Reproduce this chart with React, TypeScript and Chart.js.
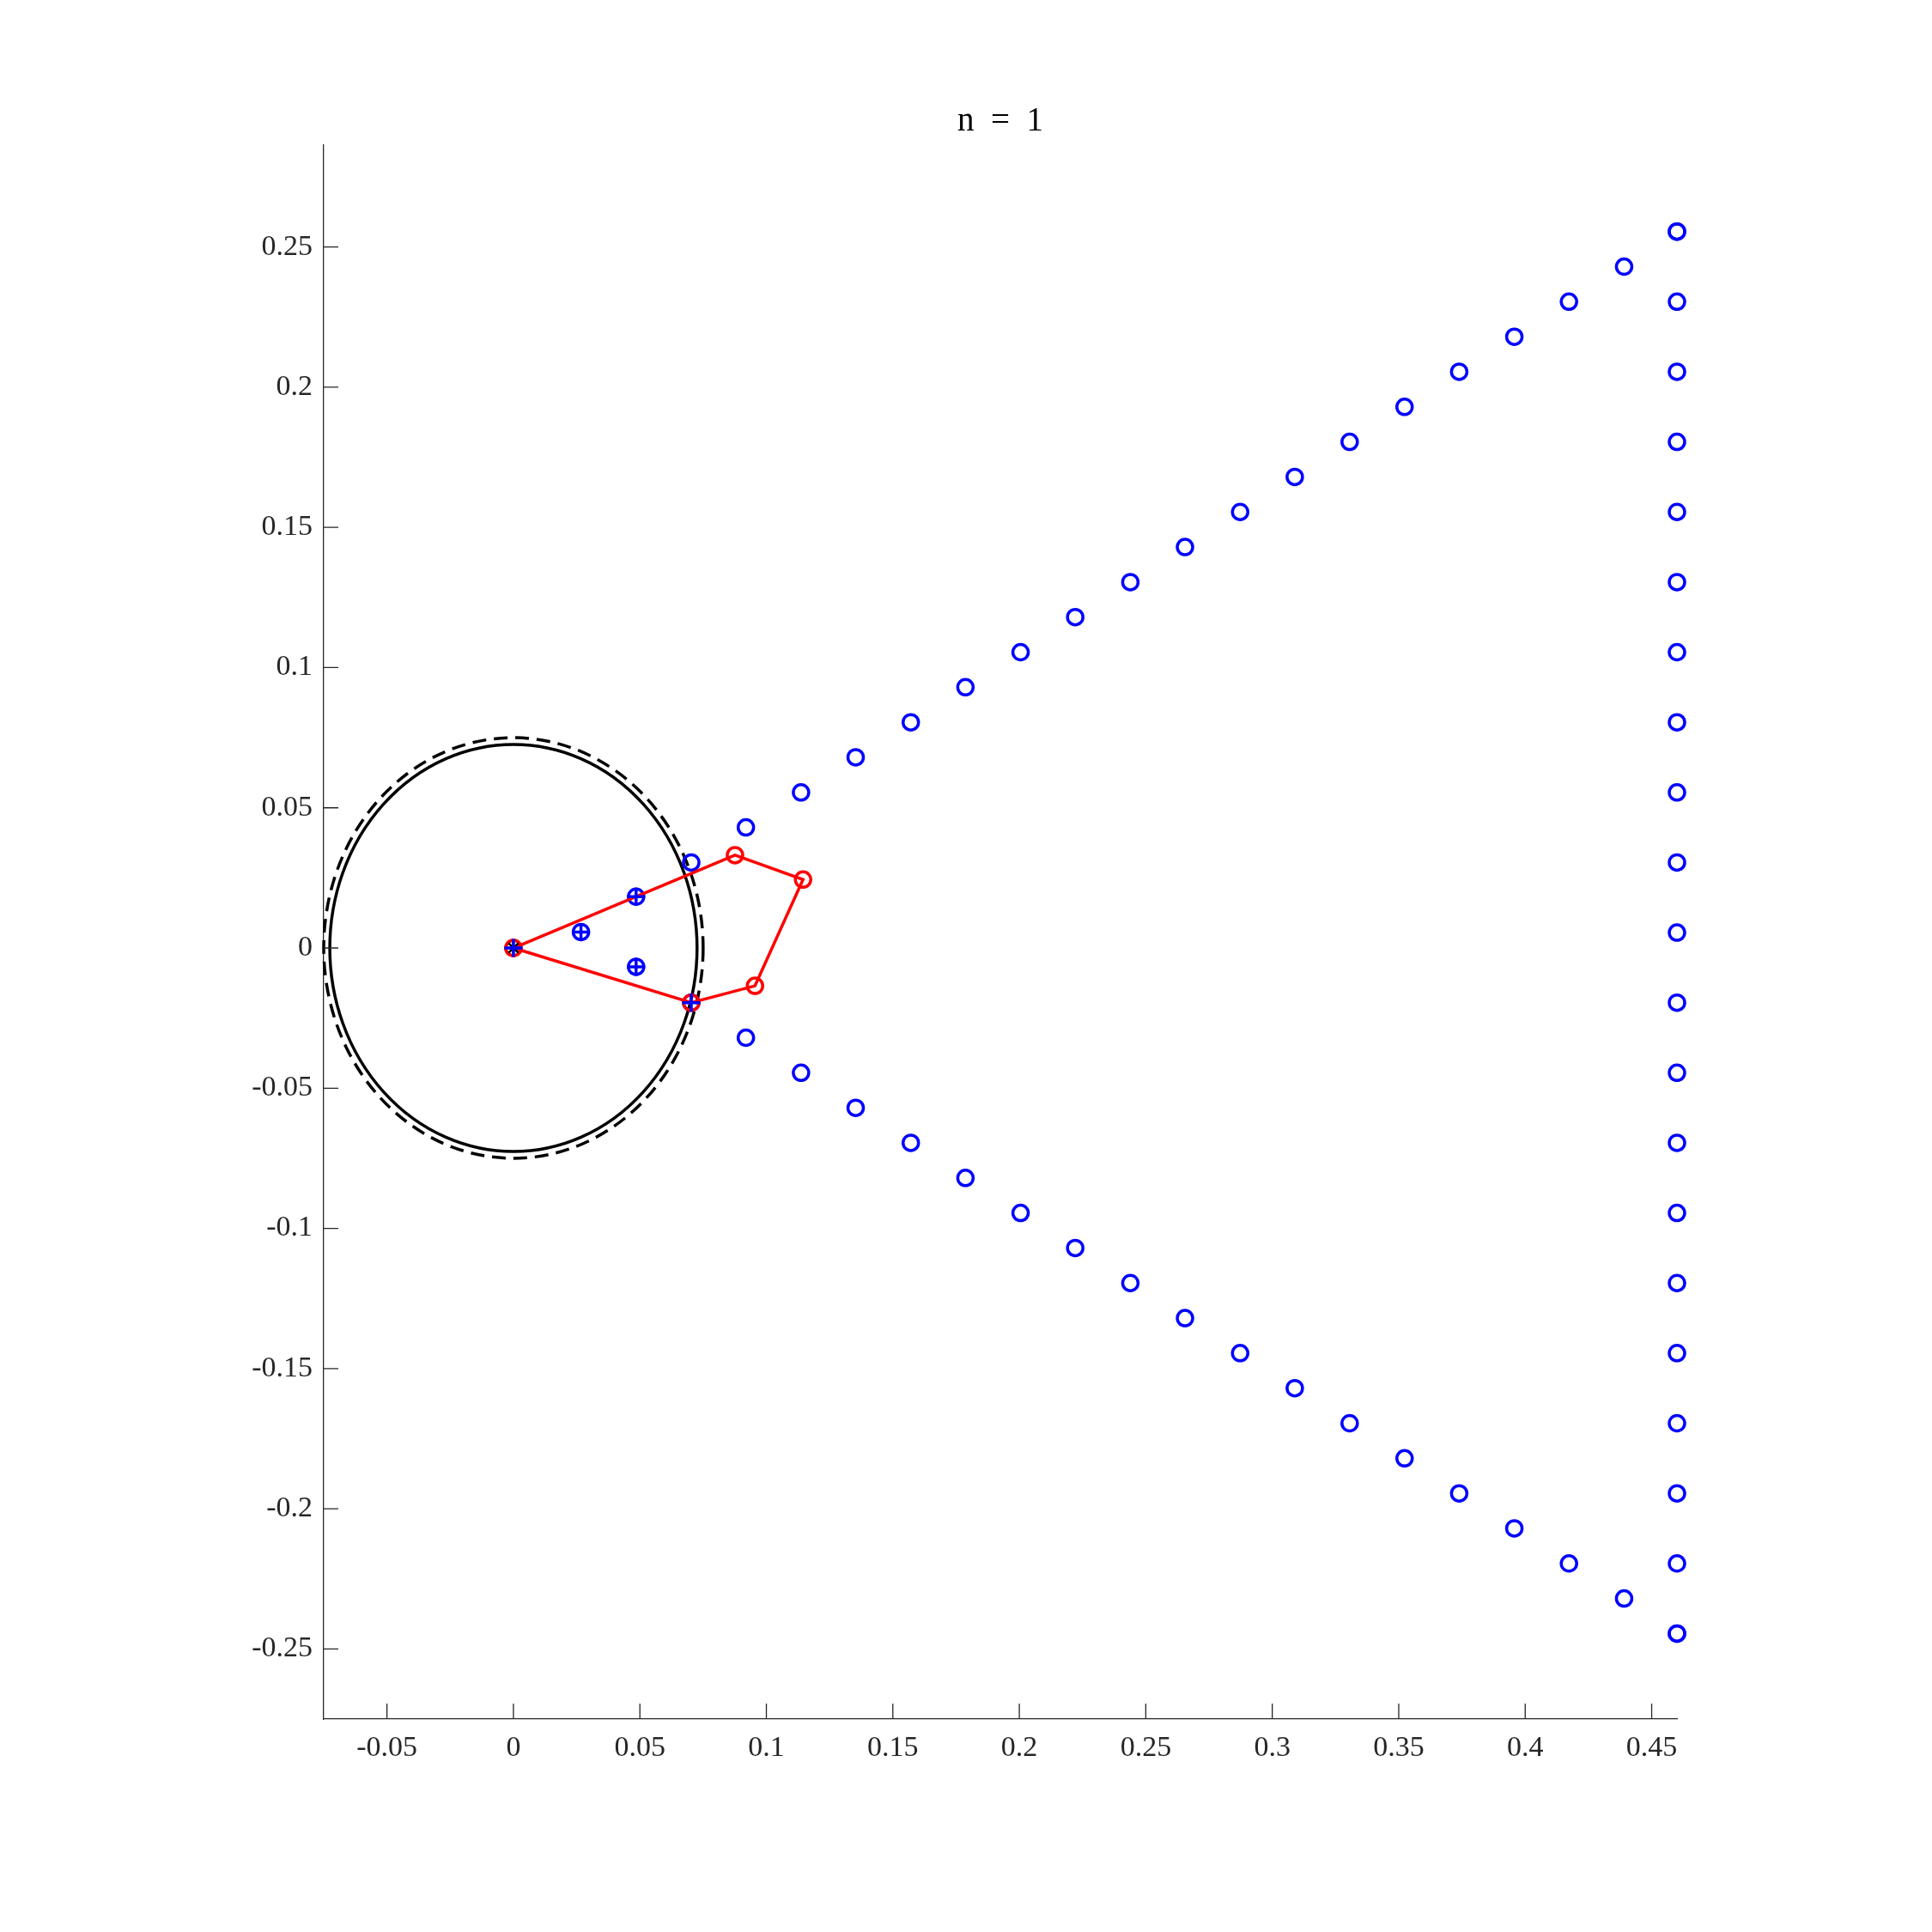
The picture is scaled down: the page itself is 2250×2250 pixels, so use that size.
import React, { useEffect, useRef } from "react";
import { Chart, registerables } from "chart.js";

Chart.register(...registerables);

// ---- data ----
const xTickValues = [-0.05, 0, 0.05, 0.1, 0.15, 0.2, 0.25, 0.3, 0.35, 0.4, 0.45];
const xTickLabels = ["-0.05", "0", "0.05", "0.1", "0.15", "0.2", "0.25", "0.3", "0.35", "0.4", "0.45"];
const yTickValues = [-0.25, -0.2, -0.15, -0.1, -0.05, 0, 0.05, 0.1, 0.15, 0.2, 0.25];
const yTickLabels = ["-0.25", "-0.2", "-0.15", "-0.1", "-0.05", "0", "0.05", "0.1", "0.15", "0.2", "0.25"];

const xRange = [-0.075, 0.46];
const yRange = [-0.275, 0.2864];

// right-hand column of nodes
const columnX = [0.46, 0.46, 0.46, 0.46, 0.46, 0.46, 0.46, 0.46, 0.46, 0.46, 0.46, 0.46, 0.46, 0.46, 0.46, 0.46, 0.46, 0.46, 0.46, 0.46, 0.46];
const columnY = [0.2555, 0.2305, 0.2055, 0.1805, 0.1555, 0.1305, 0.1055, 0.0805, 0.0555, 0.0305, 0.0055, -0.0195, -0.0445, -0.0695, -0.0945, -0.1195, -0.1445, -0.1695, -0.1945, -0.2195, -0.2445];

// upper diagonal
const upperX = [0.0703, 0.0919, 0.1137, 0.1353, 0.1571, 0.1787, 0.2005, 0.2221, 0.2439, 0.2655, 0.2873, 0.3089, 0.3306, 0.3523, 0.3739, 0.3957, 0.4173, 0.4391, 0.46];
const upperY = [0.0305, 0.043, 0.0555, 0.068, 0.0805, 0.093, 0.1055, 0.118, 0.1305, 0.143, 0.1555, 0.168, 0.1805, 0.193, 0.2055, 0.218, 0.2305, 0.243, 0.2555];

// lower diagonal
const lowerX = [0.0703, 0.0919, 0.1137, 0.1353, 0.1571, 0.1787, 0.2005, 0.2221, 0.2439, 0.2655, 0.2873, 0.3089, 0.3306, 0.3523, 0.3739, 0.3957, 0.4173, 0.4391, 0.46];
const lowerY = [-0.0195, -0.032, -0.0445, -0.057, -0.0695, -0.082, -0.0945, -0.107, -0.1195, -0.132, -0.1445, -0.157, -0.1695, -0.182, -0.1945, -0.207, -0.2195, -0.232, -0.2445];

// red polygon
const polyX = [0, 0.0876, 0.1145, 0.0955, 0.0703, 0];
const polyY = [0, 0.0331, 0.0244, -0.0135, -0.0195, 0];

// blue circled-plus nodes
const innerCircleX = [0.0267, 0.0485, 0.0485];
const innerCircleY = [0.0057, 0.0183, -0.0067];
const plusX = [0, 0.0267, 0.0485, 0.0485, 0.0703];
const plusY = [0, 0.0057, 0.0183, -0.0067, -0.0195];

// origin star
const starX = [0];
const starY = [0];

// circles (center x, center y, radius, dashed?)
const circleCx = [0, 0];
const circleCy = [0, 0];
const circleR = [0.0726, 0.075];
const circleDashed = [false, true];

const FONT = "'Liberation Serif', 'Times New Roman', serif";
const AXIS = "#262626";

const pts = (xs: number[], ys: number[]) => xs.map((x, i) => ({ x, y: ys[i] }));

const circlesPlugin = {
  id: "circles",
  beforeDatasetsDraw(chart: any) {
    const { ctx, scales } = chart;
    const xs = scales.x;
    const ys = scales.y;
    ctx.save();
    for (let i = 0; i < circleCx.length; i++) {
      const cx = xs.getPixelForValue(circleCx[i]);
      const cy = ys.getPixelForValue(circleCy[i]);
      const rx = Math.abs(xs.getPixelForValue(circleCx[i] + circleR[i]) - cx);
      const ry = Math.abs(ys.getPixelForValue(circleCy[i] + circleR[i]) - cy);
      ctx.beginPath();
      ctx.ellipse(cx, cy, rx, ry, 0, 0, Math.PI * 2);
      ctx.lineWidth = 3.5;
      ctx.strokeStyle = "#000";
      ctx.setLineDash(circleDashed[i] ? [16, 9] : []);
      ctx.stroke();
    }
    ctx.restore();
  },
};

const inwardTicksPlugin = {
  id: "inwardTicks",
  afterDraw(chart: any) {
    const { ctx, scales, chartArea } = chart;
    ctx.save();
    ctx.strokeStyle = AXIS;
    ctx.lineWidth = 1.3;
    ctx.setLineDash([]);
    ctx.beginPath();
    for (const v of xTickValues) {
      const px = scales.x.getPixelForValue(v);
      ctx.moveTo(px, chartArea.bottom);
      ctx.lineTo(px, chartArea.bottom - 18);
    }
    for (const v of yTickValues) {
      const py = scales.y.getPixelForValue(v);
      ctx.moveTo(chartArea.left, py);
      ctx.lineTo(chartArea.left + 17, py);
    }
    ctx.stroke();
    ctx.restore();
  },
};

export default function App() {
  const ref = useRef<HTMLCanvasElement | null>(null);

  useEffect(() => {
    if (!ref.current) return;
    const blueCircle = {
      pointStyle: "circle",
      pointRadius: 9,
      pointBorderWidth: 3.5,
      pointBorderColor: "#0000ff",
      pointBackgroundColor: "rgba(0,0,0,0)",
      showLine: false,
      clip: false,
    };
    const chart = new Chart(ref.current, {
      type: "scatter",
      data: {
        datasets: [
          {
            label: "plus",
            data: pts(plusX, plusY),
            pointStyle: "cross",
            pointRadius: 10.5,
            pointBorderWidth: 3.5,
            pointBorderColor: "#0000ff",
            pointBackgroundColor: "#0000ff",
            showLine: false,
            clip: false,
            order: 1,
          } as any,
          {
            label: "star",
            data: pts(starX, starY),
            pointStyle: "star",
            pointRadius: 8,
            pointBorderWidth: 2.5,
            pointBorderColor: "#000000",
            showLine: false,
            clip: false,
            order: 2,
          } as any,
          {
            label: "polygon",
            data: pts(polyX, polyY),
            showLine: true,
            borderColor: "#ff0000",
            borderWidth: 3.5,
            pointStyle: "circle",
            pointRadius: 9,
            pointBorderWidth: 3.5,
            pointBorderColor: "#ff0000",
            pointBackgroundColor: "rgba(0,0,0,0)",
            clip: false,
            order: 3,
          } as any,
          { label: "inner", data: pts(innerCircleX, innerCircleY), ...blueCircle, order: 4 } as any,
          { label: "upper", data: pts(upperX, upperY), ...blueCircle, order: 5 } as any,
          { label: "lower", data: pts(lowerX, lowerY), ...blueCircle, order: 6 } as any,
          { label: "column", data: pts(columnX, columnY), ...blueCircle, order: 7 } as any,
        ],
      },
      options: {
        animation: false,
        responsive: false,
        maintainAspectRatio: false,
        events: [],
        layout: { padding: { left: 0, right: 297, top: 0, bottom: 0 } },
        plugins: {
          legend: { display: false },
          tooltip: { enabled: false },
          title: {
            display: true,
            text: "n  =  1",
            fullSize: false,
            color: "#000",
            font: { family: FONT, size: 39, weight: "normal" as any },
            padding: { top: 118, bottom: 4 },
          },
        },
        scales: {
          x: {
            type: "linear",
            min: xRange[0],
            max: xRange[1],
            grid: { display: false, drawTicks: false },
            border: { display: true, color: AXIS, width: 1.3 },
            afterBuildTicks: (scale: any) => {
              scale.ticks = xTickValues.map((v) => ({ value: v }));
            },
            afterFit: (scale: any) => {
              scale.height = 248;
            },
            ticks: {
              autoSkip: false,
              maxRotation: 0,
              padding: 14,
              color: AXIS,
              font: { family: FONT, size: 34 },
              callback: (_v: any, i: number) => xTickLabels[i],
            },
          },
          y: {
            type: "linear",
            min: yRange[0],
            max: yRange[1],
            grid: { display: false, drawTicks: false },
            border: { display: true, color: AXIS, width: 1.3 },
            afterBuildTicks: (scale: any) => {
              scale.ticks = yTickValues.map((v) => ({ value: v }));
            },
            afterFit: (scale: any) => {
              scale.width = 377;
            },
            ticks: {
              autoSkip: false,
              padding: 13,
              color: AXIS,
              font: { family: FONT, size: 34 },
              callback: (_v: any, i: number) => yTickLabels[i],
            },
          },
        },
      },
      plugins: [circlesPlugin, inwardTicksPlugin],
    } as any);
    return () => chart.destroy();
  }, []);

  return (
    <div style={{ position: "absolute", left: 0, top: 0, width: 2250, height: 2250, background: "#fff" }}>
      <canvas ref={ref} width={2250} height={2250} style={{ width: 2250, height: 2250 }} />
    </div>
  );
}
